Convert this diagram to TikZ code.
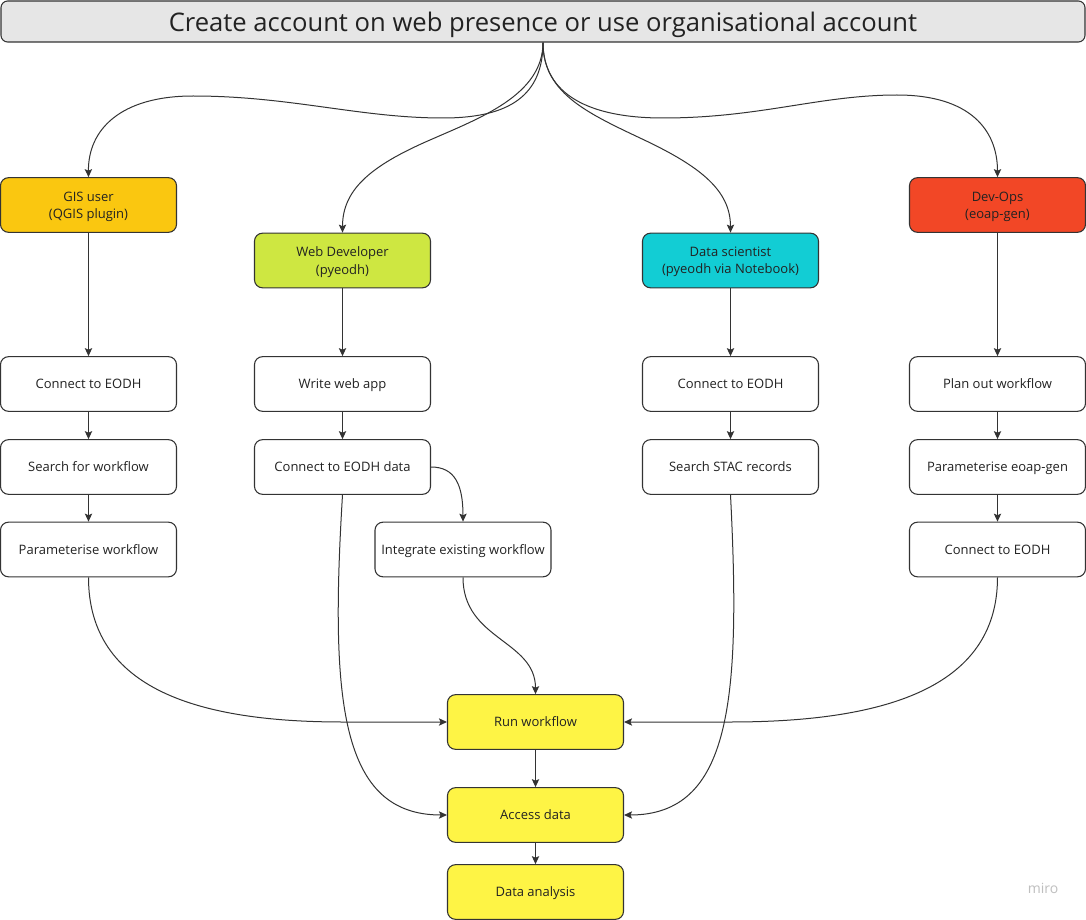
\documentclass[tikz,border=0pt]{standalone}
\usepackage{fontspec}
\setmainfont{Open Sans}
\usetikzlibrary{arrows.meta}
\definecolor{ln}{HTML}{333333}
\definecolor{tgray}{HTML}{E6E6E6}
\definecolor{cgis}{HTML}{FAC710}
\definecolor{cweb}{HTML}{CEE741}
\definecolor{cds}{HTML}{12CDD4}
\definecolor{cdev}{HTML}{F24726}
\definecolor{cyel}{HTML}{FEF445}
\definecolor{txt}{HTML}{222222}
\begin{document}
\begin{tikzpicture}[x=0.75pt,y=-0.75pt,
  bx/.style={draw=ln, line width=0.8pt, rounded corners=6pt, fill=white,
    minimum width=132pt, minimum height=41pt, inner sep=0pt, align=center,
    text depth=0pt,
    text=txt, font=\fontsize{9.75pt}{13pt}\selectfont},
  bx2/.style={bx, text depth=0pt, yshift=0pt},
  ttl/.style={draw=ln, line width=0.8pt, rounded corners=5pt, fill=tgray,
    minimum width=813pt, minimum height=30.75pt, inner sep=0pt, text depth=0pt,
    text=txt, font=\fontsize{19.2pt}{23pt}\selectfont},
  arr/.style={draw=ln, line width=0.75pt, -{Stealth[length=6pt,width=5.5pt,inset=1.2pt]}},
  ln/.style={draw=ln, line width=0.75pt}]
\useasboundingbox (0,0) rectangle (1086,920);
\fill[white] (0,0) rectangle (1086,920);

% title
\node[ttl] (title) at (543,21.5) {Create account on web presence or use organisational account};

% role boxes
\node[bx, fill=cgis] (gis) at (88.5,205) {GIS user\\(QGIS plugin)\rule[-1.5pt]{0pt}{0pt}};
\node[bx, fill=cweb] (web) at (342.5,260.5) {Web Developer\\(pyeodh)\rule[-1.5pt]{0pt}{0pt}};
\node[bx, fill=cds] (ds) at (730.5,260.5) {Data scientist\\(pyeodh via Notebook)\rule[-1.5pt]{0pt}{0pt}};
\node[bx, fill=cdev] (dev) at (997.5,205) {Dev-Ops\\(eoap-gen)\rule[-1.5pt]{0pt}{0pt}};

% column 1
\node[bx] (g1) at (88.5,384) {Connect to EODH};
\node[bx] (g2) at (88.5,467) {Search for workflow};
\node[bx] (g3) at (88.5,549.5) {Parameterise workflow};

% column 2
\node[bx] (w1) at (342.5,384) {Write web app};
\node[bx] (w2) at (342.5,467) {Connect to EODH data};
\node[bx] (w3) at (463,549.5) {Integrate existing workflow};

% column 3
\node[bx] (d1) at (730.5,384) {Connect to EODH};
\node[bx] (d2) at (730.5,467) {Search STAC records};

% column 4
\node[bx] (o1) at (997.5,384) {Plan out workflow};
\node[bx] (o2) at (997.5,467) {Parameterise eoap-gen};
\node[bx] (o3) at (997.5,549.5) {Connect to EODH};

% bottom
\node[bx, fill=cyel] (run) at (535.5,722) {Run workflow};
\node[bx, fill=cyel] (acc) at (535.5,815) {Access data};
\node[bx, fill=cyel] (ana) at (535.5,892) {Data analysis};

\node[text=black!25, font=\fontsize{10.5pt}{12pt}\selectfont, anchor=center] (miro) at (1043,888) {miro};

% curves from title
\draw[arr] (title.south) .. controls (543,95) and (510,118) .. (443,118)
  .. controls (360,118) and (290,96) .. (193,96)
  .. controls (120,96) and (88,130) .. (gis.north);
\draw[arr] (title.south) .. controls (543,95) and (480,118) .. (430,140)
  .. controls (370,166) and (342.5,190) .. (web.north);
\draw[arr] (title.south) .. controls (543,92) and (585,112) .. (640,138)
  .. controls (700,166) and (730.5,190) .. (ds.north);
\draw[arr] (title.south) .. controls (543,95) and (590,118) .. (663,118)
  .. controls (760,118) and (820,95) .. (897,95)
  .. controls (970,95) and (997.5,130) .. (dev.north);

% straight arrows
\draw[arr] (gis.south) -- (g1.north);
\draw[arr] (g1.south) -- (g2.north);
\draw[arr] (g2.south) -- (g3.north);
\draw[arr] (web.south) -- (w1.north);
\draw[arr] (w1.south) -- (w2.north);
\draw[arr] (ds.south) -- (d1.north);
\draw[arr] (d1.south) -- (d2.north);
\draw[arr] (dev.south) -- (o1.north);
\draw[arr] (o1.south) -- (o2.north);
\draw[arr] (o2.south) -- (o3.north);
\draw[arr] (run.south) -- (acc.north);
\draw[arr] (acc.south) -- (ana.north);

% curved connectors
\draw[arr] (w2.east) .. controls (455,467) and (463,485) .. (w3.north);
\draw[arr] (w3.south) .. controls (463,640) and (535.5,640) .. (run.north);
\draw[arr] (g3.south) .. controls (88.5,690) and (200,722) .. (343,722) -- (run.west);
\draw[arr] (o3.south) .. controls (997.5,690) and (880,722) .. (730,722) -- (run.east);
\draw[arr] (w2.south) .. controls (330,700) and (340,815) .. (acc.west);
\draw[arr] (d2.south) .. controls (741,700) and (731,815) .. (acc.east);
\end{tikzpicture}
\end{document}
